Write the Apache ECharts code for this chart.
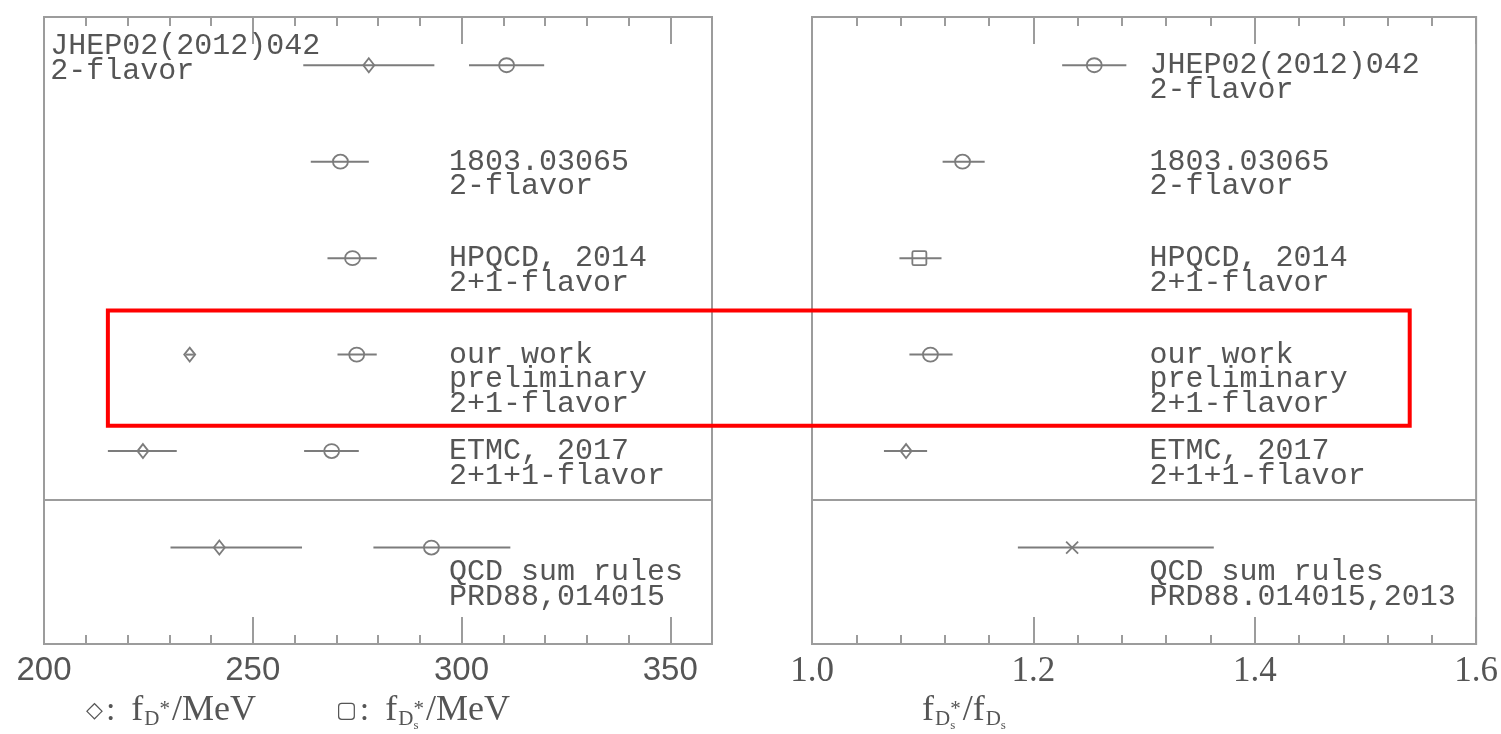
<!DOCTYPE html>
<html>
<head>
<meta charset="utf-8">
<script src="https://cdn.jsdelivr.net/npm/echarts@6/dist/echarts.min.js"></script>
<style>
  html, body { margin: 0; padding: 0; background: #fff; }
  #chart { width: 1501px; height: 734px; }
</style>
</head>
<body>
<div id="chart"></div>
<script>
// Collaborations / references, top to bottom
const rowNames = ['JHEP02(2012)042', '1803.03065', 'HPQCD, 2014', 'our work', 'ETMC, 2017', 'QCD sum rules'];

// f_D* in MeV: [central, low, high]; null where no result is shown
const fDstar = [
  [277.8, 262.1, 293.5],
  null,
  null,
  [234.9, 233.9, 235.9],
  [223.7, 215.3, 231.8],
  [242.0, 230.3, 261.8]
];

// f_Ds* in MeV: [central, low, high]
const fDsstar = [
  [310.8, 301.8, 319.8],
  [271.0, 263.9, 277.8],
  [273.9, 267.9, 279.7],
  [274.9, 270.3, 279.7],
  [268.9, 262.3, 275.4],
  [292.8, 278.9, 311.7]
];

// f_Ds* / f_Ds: [central, low, high]
const ratioDsstarDs = [
  [1.255, 1.226, 1.284],
  [1.136, 1.118, 1.156],
  [1.097, 1.079, 1.117],
  [1.107, 1.088, 1.127],
  [1.085, 1.065, 1.104],
  [1.235, 1.186, 1.363]
];
const ratioMarkers = ['circle', 'circle', 'square', 'circle', 'diamond', 'cross'];

// Row annotations
const leftNotes = [
  'JHEP02(2012)042\n2-flavor',
  '1803.03065\n2-flavor',
  'HPQCD, 2014\n2+1-flavor',
  'our work\npreliminary\n2+1-flavor',
  'ETMC, 2017\n2+1+1-flavor',
  'QCD sum rules\nPRD88,014015'
];
const rightNotes = [
  'JHEP02(2012)042\n2-flavor',
  '1803.03065\n2-flavor',
  'HPQCD, 2014\n2+1-flavor',
  'our work\npreliminary\n2+1-flavor',
  'ETMC, 2017\n2+1+1-flavor',
  'QCD sum rules\nPRD88.014015,2013'
];

// Axis tick labels
const leftTickLabels = ['200', '250', '300', '350'];
const rightTickLabels = ['1.0', '1.2', '1.4', '1.6'];

// ---------------------------------------------------------------
const LINE = '#7c7c7c';
const FRAME = '#9c9c9c';
const TEXT = '#555';
const NOTE_FONT = '"Liberation Mono", "DejaVu Sans Mono", monospace';
const NOTE_SIZE = 30;
const NOTE_LH = 24.5;

const rowY = i => 6 - i;   // row i sits at y = 6 - i on the hidden value axis

function markerShape(kind, c) {
  const st = { stroke: LINE, lineWidth: 1.8, fill: 'none' };
  const x = c[0], y = c[1];
  switch (kind) {
    case 'diamond':
      return { type: 'polygon', shape: { points: [[x, y - 7], [x + 5.5, y], [x, y + 7], [x - 5.5, y]] }, style: st };
    case 'square':
      return { type: 'rect', shape: { x: x - 7, y: y - 7, width: 14, height: 14, r: 1.5 }, style: st };
    case 'cross':
      return {
        type: 'group', children: [
          { type: 'line', shape: { x1: x - 6, y1: y - 6, x2: x + 6, y2: y + 6 }, style: st },
          { type: 'line', shape: { x1: x - 6, y1: y + 6, x2: x + 6, y2: y - 6 }, style: st }
        ]
      };
    default:
      return { type: 'ellipse', shape: { cx: x, cy: y, rx: 7.5, ry: 7 }, style: st };
  }
}

function errorBars(markerOf) {
  return function (params, api) {
    const y = api.value(3);
    const c = api.coord([api.value(0), y]);
    const lo = api.coord([api.value(1), y]);
    const hi = api.coord([api.value(2), y]);
    return {
      type: 'group',
      children: [
        { type: 'line', shape: { x1: lo[0], y1: c[1], x2: hi[0], y2: c[1] }, style: { stroke: LINE, lineWidth: 2 } },
        markerShape(markerOf(6 - y), c)
      ]
    };
  };
}

function toBarData(list) {
  const out = [];
  list.forEach((v, i) => { if (v) out.push([v[0], v[1], v[2], rowY(i)]); });
  return out;
}

// Note placement (data x of the text's left edge, pixel shift of the first line)
function notesSeries(notes, xIdx, yIdx, anchorX, special) {
  return {
    type: 'custom',
    xAxisIndex: xIdx, yAxisIndex: yIdx,
    silent: true, clip: false,
    encode: { x: 0, y: 1 },
    data: notes.map((t, i) => {
      const s = special[i] || {};
      return [s.x !== undefined ? s.x : anchorX, rowY(i)];
    }),
    renderItem: function (params, api) {
      const i = params.dataIndex;
      const s = special[i] || {};
      const p = api.coord([api.value(0), api.value(1)]);
      return {
        type: 'text',
        x: p[0],
        y: p[1] - NOTE_LH / 2 + (s.dy || 0),
        style: {
          text: notes[i],
          fontFamily: NOTE_FONT,
          fontSize: NOTE_SIZE,
          lineHeight: NOTE_LH,
          fill: TEXT,
          align: 'left',
          verticalAlign: 'top'
        }
      };
    }
  };
}

function tickFormatter(labels) {
  return function (v) {
    const hit = labels.find(t => Math.abs(parseFloat(t) - v) < 1e-6);
    return hit === undefined ? '' : hit;
  };
}

function axisSet(gridIndex, min, max, major, minor, labels, labelFont, labelSize) {
  const tickStyle = { color: FRAME, width: 2 };
  const base = { type: 'value', gridIndex, min, max, splitLine: { show: false }, axisLine: { show: false } };
  return [
    Object.assign({}, base, {
      position: 'bottom', interval: major,
      axisTick: { show: true, inside: true, length: 27, lineStyle: tickStyle },
      axisLabel: {
        show: true, margin: 10, formatter: tickFormatter(labels),
        fontFamily: labelFont, fontSize: labelSize, color: TEXT,
        showMinLabel: true, showMaxLabel: true, hideOverlap: false
      }
    }),
    Object.assign({}, base, {
      position: 'bottom', interval: minor,
      axisTick: { show: true, inside: true, length: 9, lineStyle: tickStyle },
      axisLabel: { show: false }
    }),
    Object.assign({}, base, {
      position: 'top', interval: major,
      axisTick: { show: true, inside: true, length: 27, lineStyle: tickStyle },
      axisLabel: { show: false }
    }),
    Object.assign({}, base, {
      position: 'top', interval: minor,
      axisTick: { show: true, inside: true, length: 9, lineStyle: tickStyle },
      axisLabel: { show: false }
    })
  ];
}

const separator = {
  silent: true, symbol: 'none', animation: false,
  label: { show: false },
  lineStyle: { color: FRAME, width: 2, type: 'solid' },
  data: [{ yAxis: 1.5 }]
};

const chart = echarts.init(document.getElementById('chart'), null, { renderer: 'canvas' });

// Axis-title builder with sub/superscripts, laid out by measured widths
const measureCtx = document.createElement('canvas').getContext('2d');
function textWidth(t, size, family) {
  measureCtx.font = size + 'px ' + family;
  return measureCtx.measureText(t).width;
}
const SERIF = '"Liberation Serif", "DejaVu Serif", serif';
function formula(x, yMid, pieces) {
  const children = [];
  let cx = x;
  pieces.forEach(p => {
    const family = p.family || SERIF;
    children.push({
      type: 'text', x: cx, y: yMid + (p.dy || 0),
      style: { text: p.t, fontSize: p.size, fontFamily: family, fill: TEXT, align: 'left', verticalAlign: 'middle' }
    });
    cx += (p.adv !== undefined ? p.adv : textWidth(p.t, p.size, family)) + (p.gap || 0);
  });
  return { type: 'group', children, silent: true };
}

const SYM = '"DejaVu Sans", sans-serif';
const titles = [
  formula(86, 711, [
    { t: '\u25C7', size: 22, family: SYM, gap: 3 },
    { t: ':', size: 34, gap: 16 },
    { t: 'f', size: 36, gap: 1 },
    { t: 'D', size: 21, dy: 8 },
    { t: '*', size: 21, dy: -2, gap: 2 },
    { t: '/MeV', size: 36 }
  ]),
  formula(336, 711, [
    { t: '\u25A2', size: 22, family: SYM, gap: 3 },
    { t: ':', size: 34, gap: 16 },
    { t: 'f', size: 36, gap: 1 },
    { t: 'D', size: 21, dy: 8 },
    { t: 's', size: 13, dy: 15, adv: 0 },
    { t: '*', size: 21, dy: -2, gap: 2 },
    { t: '/MeV', size: 36 }
  ]),
  formula(922, 711, [
    { t: 'f', size: 36, gap: 1 },
    { t: 'D', size: 21, dy: 8 },
    { t: 's', size: 13, dy: 15, adv: 0 },
    { t: '*', size: 21, dy: -2, gap: 2 },
    { t: '/f', size: 36, gap: 1 },
    { t: 'D', size: 21, dy: 8 },
    { t: 's', size: 13, dy: 15 }
  ])
];

const option = {
  animation: false,
  backgroundColor: '#fff',
  grid: [
    { left: 44, right: 789, top: 17, bottom: 90, show: true, borderColor: FRAME, borderWidth: 2, backgroundColor: 'transparent' },
    { left: 812, right: 11, top: 17, bottom: 90, show: true, borderColor: FRAME, borderWidth: 2, backgroundColor: 'transparent' }
  ],
  xAxis: [].concat(
    axisSet(0, 200, 360, 50, 10, leftTickLabels, '"Liberation Sans", Arial, sans-serif', 33),
    axisSet(1, 1.0, 1.6, 0.2, 0.04, rightTickLabels, SERIF, 35)
  ),
  yAxis: [
    { type: 'value', gridIndex: 0, min: 0, max: 6.5, show: false },
    { type: 'value', gridIndex: 1, min: 0, max: 6.5, show: false }
  ],
  series: [
    {
      name: 'f_D*', type: 'custom', xAxisIndex: 0, yAxisIndex: 0, clip: false, silent: true,
      encode: { x: [0, 1, 2], y: 3 },
      data: toBarData(fDstar),
      renderItem: errorBars(() => 'diamond'),
      markLine: separator
    },
    {
      name: 'f_Ds*', type: 'custom', xAxisIndex: 0, yAxisIndex: 0, clip: false, silent: true,
      encode: { x: [0, 1, 2], y: 3 },
      data: toBarData(fDsstar),
      renderItem: errorBars(() => 'circle')
    },
    {
      name: 'f_Ds*/f_Ds', type: 'custom', xAxisIndex: 4, yAxisIndex: 1, clip: false, silent: true,
      encode: { x: [0, 1, 2], y: 3 },
      data: toBarData(ratioDsstarDs),
      renderItem: errorBars(i => ratioMarkers[i]),
      markLine: separator
    },
    notesSeries(leftNotes, 0, 0, 297, { 0: { x: 201.5, dy: -19 }, 5: { dy: 25 } }),
    notesSeries(rightNotes, 4, 1, 1.305, { 5: { dy: 25 } })
  ],
  graphic: titles
};

chart.setOption(option);

// Highlight frame around "our work", spanning both panels (data units)
const highlight = { fromX: 215.3, toX: 1.54, topY: 3.457, bottomY: 2.263 };
const a = chart.convertToPixel({ gridIndex: 0 }, [highlight.fromX, highlight.topY]);
const b = chart.convertToPixel({ gridIndex: 1 }, [highlight.toX, highlight.bottomY]);
chart.setOption({
  graphic: titles.concat([{
    type: 'rect', z: 100, silent: true,
    shape: { x: a[0], y: a[1], width: b[0] - a[0], height: b[1] - a[1] },
    style: { fill: 'none', stroke: '#ff0000', lineWidth: 4 }
  }])
});
</script>
</body>
</html>
